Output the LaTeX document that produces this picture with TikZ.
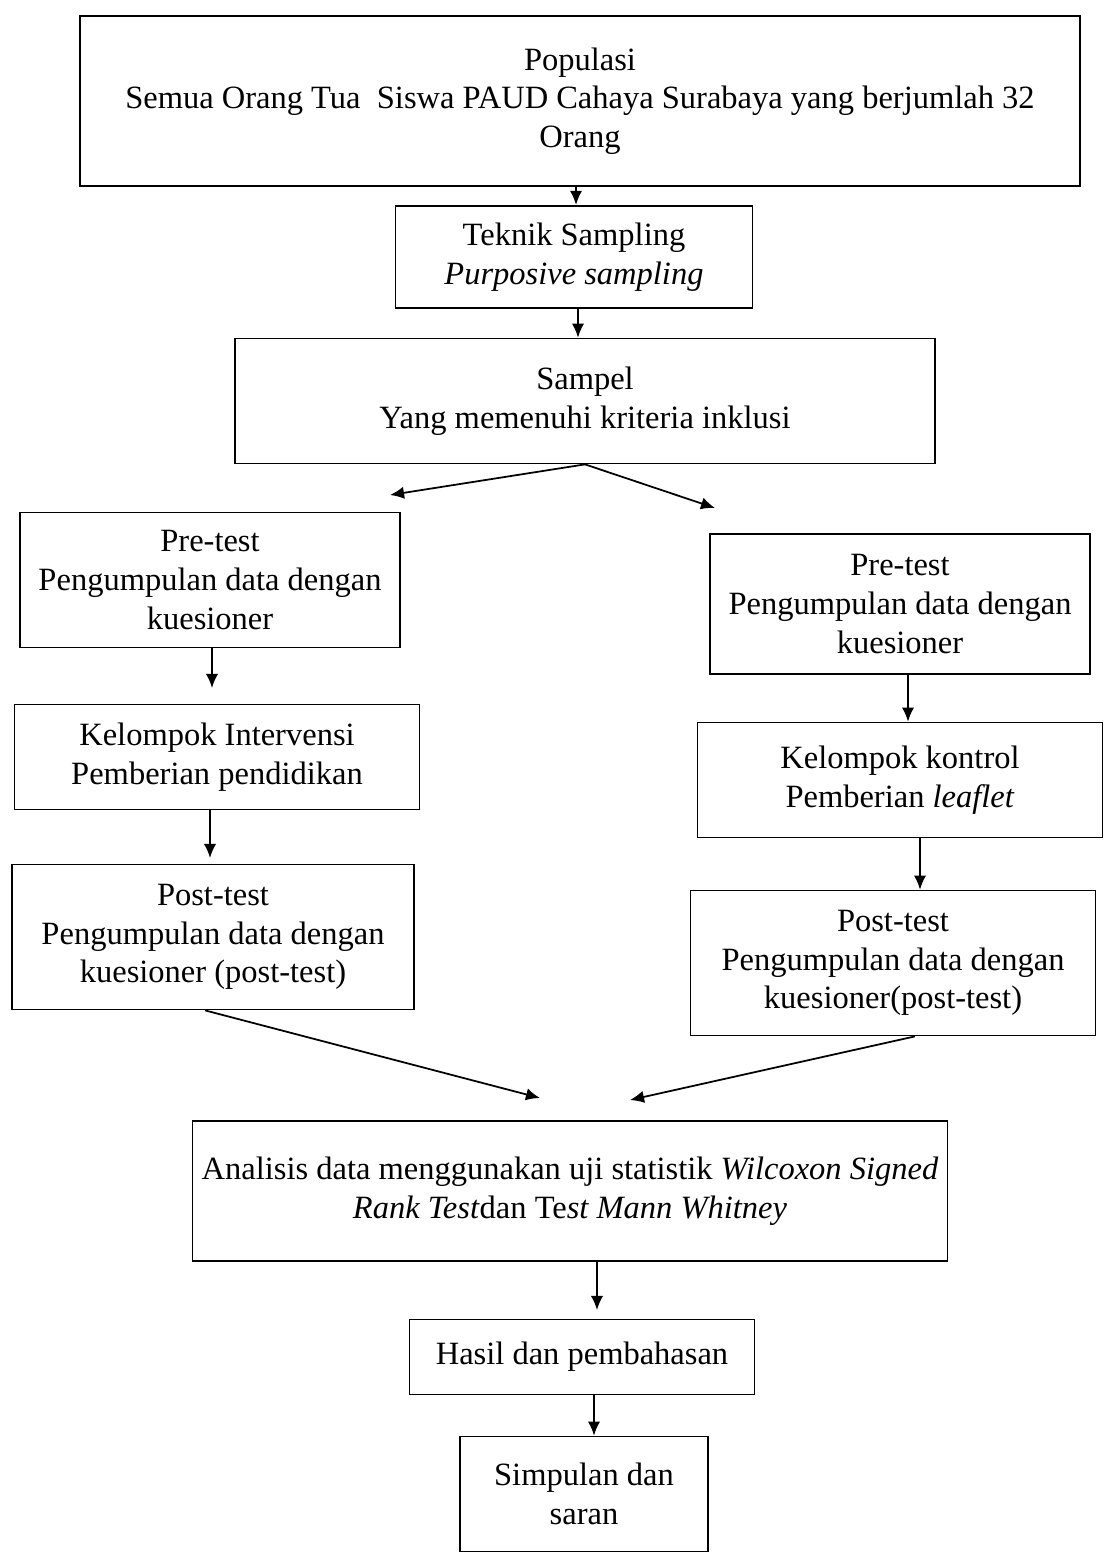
\documentclass[tikz,border=0pt]{standalone}
\usepackage{fontspec}
\setmainfont{Liberation Serif}
\usetikzlibrary{arrows.meta}

\begin{document}
\begin{tikzpicture}[x=0.02cm,y=-0.02cm,%
% common options for the boxes:
box/.style = {draw, line width=1pt, align=center, inner sep=0,
            font=\fontsize{18.5}{22}\selectfont},
% common options for the arrows:
arr/.style = {line width=1pt, -{Latex[length=8pt,width=7pt]}}]
\useasboundingbox (0,0) rectangle (1103,1556);
\node[box,minimum width=20cm,minimum height=3.4cm] (pop) at (580,101) {Populasi\\Semua Orang Tua~~Siswa PAUD Cahaya Surabaya yang berjumlah 32\\Orang};
\node[box,minimum width=7.14cm,minimum height=2.05cm] (teknik) at (574,257) {Teknik Sampling\\\textit{Purposive sampling}};
\node[box,minimum width=14cm,minimum height=2.5cm] (sampel) at (585,401) {Sampel\\Yang memenuhi kriteria inklusi};
\node[box,minimum width=7.6cm,minimum height=2.7cm] (preA) at (210,580) {Pre-test\\Pengumpulan data dengan\\kuesioner};
\node[box,minimum width=7.6cm,minimum height=2.8cm] (preB) at (900,604) {Pre-test\\Pengumpulan data dengan\\kuesioner};
\node[box,minimum width=8.1cm,minimum height=2.1cm] (intv) at (217,757) {Kelompok Intervensi\\Pemberian pendidikan};
\node[box,minimum width=8.1cm,minimum height=2.3cm] (kontrol) at (900,780) {Kelompok kontrol\\Pemberian \textit{leaflet}};
\node[box,minimum width=8.04cm,minimum height=2.9cm] (postA) at (213,937) {Post-test\\Pengumpulan data dengan\\kuesioner (post-test)};
\node[box,minimum width=8.1cm,minimum height=2.9cm] (postB) at (893,963) {Post-test\\Pengumpulan data dengan\\kuesioner(post-test)};
\node[box,minimum width=15.1cm,minimum height=2.8cm] (analisis) at (570,1191) {Analisis data menggunakan uji statistik \textit{Wilcoxon Signed}\\\textit{Rank Test}dan Te\textit{st Mann Whitney}};
\node[box,minimum width=6.9cm,minimum height=1.5cm] (hasil) at (582,1357) {Hasil dan pembahasan};
\node[box,minimum width=4.96cm,minimum height=2.3cm] (simpulan) at (584,1494) {Simpulan dan\\saran};
% free ends of the arrows
\coordinate (sA) at (390,495);
\coordinate (sB) at (715,508);
\coordinate (iA) at (212,688);
\coordinate (pA) at (210,858);
\coordinate (aA) at (540,1098);
\coordinate (aB) at (630,1100);
\coordinate (hA) at (597,1310);
\draw[arr] (pop.south -| 576,0) -- (teknik.north -| 576,0);
\draw[arr] (teknik.south -| 578,0) -- (sampel.north -| 578,0);
\draw[arr] (sampel.south) -- (sA);
\draw[arr] (sampel.south) -- (sB);
\draw[arr] (preA.south -| iA) -- (iA);
\draw[arr] (preB.south -| 908,0) -- (kontrol.north -| 908,0);
\draw[arr] (intv.south -| pA) -- (pA);
\draw[arr] (kontrol.south -| 920,0) -- (postB.north -| 920,0);
\draw[arr] (postA.south -| 205,0) -- (aA);
\draw[arr] (postB.south -| 915,0) -- (aB);
\draw[arr] (analisis.south -| hA) -- (hA);
\draw[arr] (hasil.south -| 594,0) -- (simpulan.north -| 594,0);
\end{tikzpicture}
\end{document}
